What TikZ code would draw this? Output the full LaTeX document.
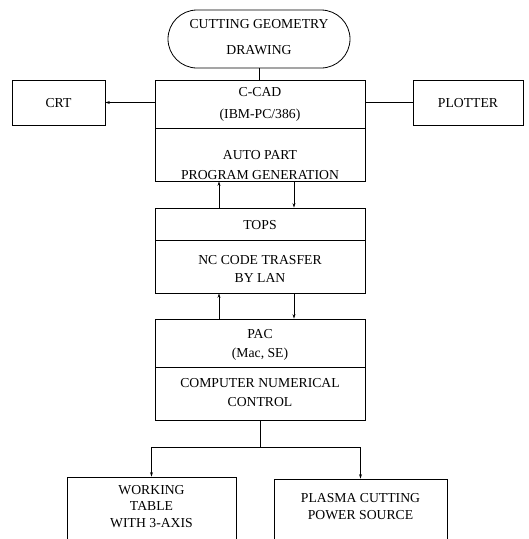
\documentclass[tikz,border=0pt]{standalone}
\usepackage{fontspec}
\setmainfont{Liberation Serif}
\usetikzlibrary{shapes.misc,arrows.meta}
\begin{document}
\begin{tikzpicture}[x=1pt,y=-1pt,
  box/.style={draw,rectangle,inner sep=0pt,line width=0.8pt},
  termbox/.style={draw,rounded rectangle,inner sep=0pt,line width=0.8pt},
  txt/.style={inner sep=0pt,align=center,font=\fontsize{13.7}{#1}\selectfont},
  txt/.default=19,
  conn/.style={line width=0.8pt},
  arr/.style={conn,-{Stealth[length=4.5pt,width=3pt]}}]
\useasboundingbox (0,0) rectangle (529,539);
\clip (0,0) rectangle (529,539);
% boxes
\node[termbox,minimum width=182pt,minimum height=58pt] (term) at (259,39) {};
\node[box,minimum width=210pt,minimum height=48pt] (ccad) at (260,104) {};
\node[box,minimum width=210pt,minimum height=53pt] (auto) at (260,154.5) {};
\node[box,minimum width=93pt,minimum height=45pt] (crt) at (58.5,102.5) {};
\node[box,minimum width=110pt,minimum height=45pt] (plot) at (468,102.5) {};
\node[box,minimum width=210pt,minimum height=32pt] (tops) at (260,224) {};
\node[box,minimum width=210pt,minimum height=53pt] (nc) at (260,266.5) {};
\node[box,minimum width=210pt,minimum height=48pt] (pac) at (260,343) {};
\node[box,minimum width=210pt,minimum height=53pt] (cnc) at (260,393.5) {};
\node[box,minimum width=169pt,minimum height=90pt] (work) at (151.5,522) {};
\node[box,minimum width=173pt,minimum height=90pt] (plasma) at (360.5,524) {};
% texts
\node[txt=26] (tterm) at (259,37) {CUTTING GEOMETRY\\DRAWING};
\node[txt=22] (tccad) at (260,104) {C-CAD\\(IBM-PC/386)};
\node[txt=20] (tauto) at (260,165) {AUTO PART\\PROGRAM GENERATION};
\node[txt] (tcrt) at (58.5,103) {CRT};
\node[txt] (tplot) at (468,103) {PLOTTER};
\node[txt] (ttops) at (260,225) {TOPS};
\node[txt=18] (tnc) at (260,269) {NC CODE TRASFER\\BY LAN};
\node[txt=19] (tpac) at (260,344.5) {PAC\\(Mac, SE)};
\node[txt=19] (tcnc) at (260,392.5) {COMPUTER NUMERICAL\\CONTROL};
\node[txt=16.5] (twork) at (151.5,506.5) {WORKING\\TABLE\\WITH 3-AXIS};
\node[txt=17] (tplasma) at (360.5,506.5) {PLASMA CUTTING\\POWER SOURCE};
% connectors
\coordinate (l1) at (219,0);
\coordinate (r1) at (294,0);
\coordinate (jn) at (260,447);
\draw[conn] (term.south) -- (ccad.north -| term.south);
\draw[arr] (ccad.west |- crt.east) -- (crt.east);
\draw[conn] (ccad.east |- plot.west) -- (plot.west);
\draw[arr] (tops.north -| l1) -- (auto.south -| l1);
\draw[arr] (auto.south -| r1) -- (tops.north -| r1);
\draw[arr] (pac.north -| l1) -- (nc.south -| l1);
\draw[arr] (nc.south -| r1) -- (pac.north -| r1);
\draw[conn] (cnc.south) -- (jn);
\draw[conn] (jn -| work.north) -- (jn -| plasma.north);
\draw[arr] (jn -| work.north) -- (work.north);
\draw[arr] (jn -| plasma.north) -- (plasma.north);
\end{tikzpicture}
\end{document}
